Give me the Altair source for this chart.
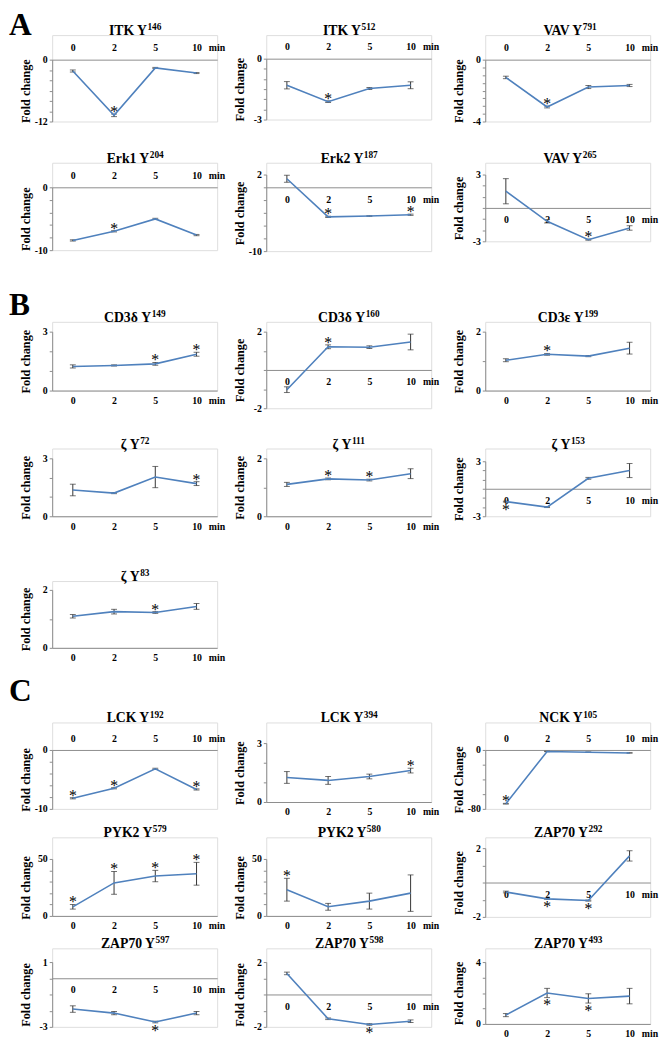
import altair as alt
import pandas as pd

times = ["0", "2", "5", "10"]

# ---- Section A ----
itk146_v = [-2.2, -10.8, -1.6, -2.6]
itk146_e = [0.2, 0.25, 0.1, 0.1]
itk512_v = [-1.31, -2.12, -1.47, -1.31]
itk512_e = [0.18, 0.04, 0.05, 0.17]
vav791_v = [-1.15, -3.06, -1.77, -1.67]
vav791_e = [0.08, 0.06, 0.1, 0.07]
erk1_v = [-8.45, -7.0, -5.03, -7.6]
erk1_e = [0.1, 0.1, 0.1, 0.1]
erk2_v = [1.34, -4.63, -4.5, -4.3]
erk2_e = [0.55, 0.1, 0.05, 0.1]
vav265_v = [1.5, -1.2, -2.85, -1.8]
vav265_e = [1.13, 0.15, 0.05, 0.2]

# ---- Section B ----
cd3d149_v = [1.23, 1.28, 1.36, 1.85]
cd3d149_e = [0.08, 0.03, 0.07, 0.1]
cd3d160_v = [-1.03, 1.21, 1.19, 1.46]
cd3d160_e = [0.15, 0.1, 0.07, 0.41]
cd3e199_v = [1.03, 1.23, 1.17, 1.44]
cd3e199_e = [0.05, 0.03, 0.02, 0.2]
z72_v = [1.36, 1.2, 2.03, 1.69]
z72_e = [0.3, 0.03, 0.55, 0.1]
z111_v = [1.1, 1.29, 1.25, 1.47]
z111_e = [0.07, 0.03, 0.03, 0.17]
z153_v = [-1.4, -2.0, 1.14, 1.99]
z153_e = [0.05, 0.05, 0.1, 0.77]
z83_v = [1.09, 1.25, 1.22, 1.43]
z83_e = [0.06, 0.08, 0.03, 0.1]

# ---- Section C ----
lck192_v = [-8.2, -6.5, -3.2, -6.7]
lck192_e = [0.1, 0.1, 0.1, 0.1]
lck394_v = [1.25, 1.1, 1.3, 1.6]
lck394_e = [0.3, 0.2, 0.12, 0.12]
nck105_v = [-73, -2, -3, -4]
nck105_e = [0.5, 0.3, 0.3, 0.3]
pyk579_v = [8, 29, 35, 37]
pyk579_e = [2, 10, 5, 10]
pyk580_v = [23, 8, 13, 20]
pyk580_e = [10, 3, 7, 16]
zap292_v = [-0.55, -0.95, -1.05, 1.55]
zap292_e = [0.05, 0.03, 0.03, 0.3]
zap597_v = [-1.9, -2.15, -2.7, -2.15]
zap597_e = [0.2, 0.1, 0.05, 0.1]
zap598_v = [1.3, -1.5, -1.85, -1.65]
zap598_e = [0.08, 0.05, 0.05, 0.08]
zap493_v = [0.57, 2.0, 1.65, 1.8]
zap493_e = [0.1, 0.3, 0.3, 0.5]

W = 168
BLUE = "#4f81bd"
ERR = "#333333"
GRAY = "#8c8c8c"
SERIF = "Liberation Serif"
TFS = 14    # title font size
SFS = 9.5   # superscript font size
# left / right room of each column's cell (y-axis title, "min" label)
COL_L = [44, 33, 33]
COL_R = [15.5, 20, 10]

CW = {"I": .389, "T": .667, "K": .778, " ": .25, "Y": .722, "V": .722, "A": .722,
      "E": .667, "r": .444, "k": .556, "C": .722, "D": .722, "δ": .5, "ε": .44,
      "ζ": .44, "L": .667, "N": .722, "P": .611, "Z": .667}


def tw(s, fs):
    return sum(CW.get(c, .5) for c in s) * fs


def panel(name, site, vals, errs, stars, ymin, ymax, step, h, tb,
          ylab="Fold change", letter=None, letter_up=0):
    return dict(name=name, site=site, vals=vals, errs=errs, stars=stars, ymin=ymin,
                ymax=ymax, step=step, h=h, tb=tb, ylab=ylab, letter=letter,
                letter_up=letter_up)


def build(p, col, K, D):
    # the view starts at the title baseline; the plot occupies [tb, tb + h] of it
    vals, errs, ymin, ymax, h, tb = p["vals"], p["errs"], p["ymin"], p["ymax"], p["h"], p["tb"]
    df = pd.DataFrame({"t": times, "v": vals, "e": errs})
    n = round((ymax - ymin) / p["step"])
    ticks = [round(ymin + k * p["step"], 6) for k in range(n + 1)]
    yax = alt.Axis(
        values=ticks,
        labelExpr=f"datum.value == {ymin} || datum.value == {ymax} ? '' + datum.value : ''",
        title=p["ylab"], titleFont=SERIF, titleFontSize=12.5, titleFontWeight="bold",
        titlePadding=2, labelFont=SERIF, labelFontSize=10, labelFontWeight="bold",
        labelPadding=2, tickSize=3, tickColor=GRAY, domainColor=GRAY,
        grid=False, minExtent=18, maxExtent=18, labelColor="#000", titleColor="#000",
    )
    if ymax <= 0:
        orient, off, base, ty = "top", -tb, "bottom", 7
    else:
        orient = "bottom"
        off = 0 if ymin >= 0 else -h * (-ymin) / (ymax - ymin)
        base, ty = "top", (5 if ymin >= 0 else 7)
    xax = alt.Axis(
        orient=orient, offset=off, title="min", titleX=7 * W / 8 + 12,
        titleY=(-ty if orient == "top" else ty),
        titleAlign="left", titleBaseline=base, titleFont=SERIF, titleFontSize=10,
        titleFontWeight="bold", titleColor="#000", labelAngle=0,
        labelPadding=ty, ticks=False, tickSize=0, labelFont=SERIF,
        labelFontSize=10, labelFontWeight="bold", labelColor="#000",
        domainColor=GRAY, grid=False,
    )
    xs = alt.X("t:O", sort=times, scale=alt.Scale(type="point", padding=0.5, domain=times),
               axis=xax, title="min")
    ysc = alt.Scale(domain=[ymin, ymax], nice=False, zero=False, range=[tb + h, tb])

    def Y(f):
        return alt.Y(f, scale=ysc, axis=yax, title=p["ylab"])

    base_c = alt.Chart(df).encode(x=xs)
    line = base_c.mark_line(color=BLUE, strokeWidth=1.6).encode(y=Y("v:Q"))
    eb = base_c.transform_calculate(lo="datum.v - datum.e", hi="datum.v + datum.e")
    rule = eb.mark_rule(color=ERR, strokeWidth=1).encode(y=Y("lo:Q"), y2="hi:Q")
    cap1 = eb.mark_tick(color=ERR, size=6, thickness=1, orient="horizontal").encode(y=Y("lo:Q"))
    cap2 = eb.mark_tick(color=ERR, size=6, thickness=1, orient="horizontal").encode(y=Y("hi:Q"))
    layers = [rule, cap1, cap2, line]
    ab = [(times[i], vals[i] + errs[i]) for i, s in p["stars"] if s == "a"]
    bl = [(times[i], vals[i] - errs[i]) for i, s in p["stars"] if s == "b"]
    for rows_, dy in ((ab, 3), (bl, 13)):
        if rows_:
            layers.append(alt.Chart(pd.DataFrame(rows_, columns=["t", "y"])).mark_text(
                text="*", font=SERIF, fontSize=16, dy=dy, baseline="alphabetic",
                color="#000").encode(x=xs, y=Y("y:Q")))
    # panel title: name + superscript site number
    main = f"{p['name']} Y"
    wm, ws = tw(main, TFS), tw(p["site"], SFS)
    x0 = W / 2 + (wm - ws) / 2
    tdf = pd.DataFrame({"main": [main], "site": [p["site"]], "letter": [p["letter"] or ""]})
    layers.append(alt.Chart(tdf).mark_text(
        font=SERIF, fontSize=TFS, fontWeight="bold", align="right", baseline="alphabetic",
        color="#000").encode(text="main:N", x=alt.value(x0), y=alt.value(0)))
    layers.append(alt.Chart(tdf).mark_text(
        font=SERIF, fontSize=SFS, fontWeight="bold", align="left", baseline="alphabetic",
        color="#000").encode(text="site:N", x=alt.value(x0 + 0.5), y=alt.value(-5)))
    if p["letter"]:
        layers.append(alt.Chart(tdf).mark_text(
            font=SERIF, fontSize=32, fontWeight="bold", align="left", baseline="alphabetic",
            color="#000").encode(text="letter:N", x=alt.value(-COL_L[col]),
                                 y=alt.value(-p["letter_up"])))
    # transparent cell frame that fixes the cell's extent in the grid
    layers.append(alt.Chart(tdf).mark_rect(opacity=0, fill="white").encode(
        x=alt.value(-COL_L[col]), x2=alt.value(W + COL_R[col]),
        y=alt.value(-K), y2=alt.value(D)))
    return alt.layer(*layers).properties(width=W, height=tb + h)


ROWS = [
    ([panel("ITK", "146", itk146_v, itk146_e, [(1, "a")], -12, 0, 2, 63, 25, letter="A"),
      panel("ITK", "512", itk512_v, itk512_e, [(1, "a")], -3, 0, 0.5, 62, 24),
      panel("VAV", "791", vav791_v, vav791_e, [(1, "a")], -4, 0, 0.5, 63, 25)], 26, 114),
    ([panel("Erk1", "204", erk1_v, erk1_e, [(1, "a")], -10, 0, 2, 64, 25),
      panel("Erk2", "187", erk2_v, erk2_e, [(1, "a"), (3, "a")], -10, 2, 2, 78, 12),
      panel("VAV", "265", vav265_v, vav265_e, [(2, "a")], -3, 3, 1, 68, 12)], 14, 127),
    ([panel("CD3δ", "149", cd3d149_v, cd3d149_e, [(2, "a"), (3, "a")], 0, 3, 1, 60, 10,
            letter="B", letter_up=7),
      panel("CD3δ", "160", cd3d160_v, cd3d160_e, [(1, "a")], -2, 2, 1, 78, 10),
      panel("CD3ε", "199", cd3e199_v, cd3e199_e, [(1, "a")], 0, 2, 1, 60, 10)], 33, 113),
    ([panel("ζ", "72", z72_v, z72_e, [(3, "a")], 0, 3, 1, 59, 10),
      panel("ζ", "111", z111_v, z111_e, [(1, "a"), (2, "a")], 0, 2, 1, 59, 10),
      panel("ζ", "153", z153_v, z153_e, [(0, "b")], -3, 3, 1, 56, 13)], 14, 119),
    ([panel("ζ", "83", z83_v, z83_e, [(2, "a")], 0, 2, 1, 59, 9)], 14, 94),
    ([panel("LCK", "192", lck192_v, lck192_e, [(0, "a"), (1, "a"), (3, "a")], -10, 0, 2, 60, 28,
            letter="C", letter_up=22),
      panel("LCK", "394", lck394_v, lck394_e, [(3, "a")], 0, 3, 1, 60, 21),
      panel("NCK", "105", nck105_v, nck105_e, [(0, "a")], -80, 0, 20, 60, 28, "Fold Change")],
     48, 101),
    ([panel("PYK2", "579", pyk579_v, pyk579_e, [(0, "a"), (1, "a"), (2, "a"), (3, "a")], 0, 50, 10, 58, 22),
      panel("PYK2", "580", pyk580_v, pyk580_e, [(0, "a")], 0, 50, 10, 58, 22),
      panel("ZAP70", "292", zap292_v, zap292_e, [(1, "b"), (2, "b")], -2, 2, 1, 70, 11)], 14, 97),
    ([panel("ZAP70", "597", zap597_v, zap597_e, [(2, "b")], -3, 1, 1, 66, 14),
      panel("ZAP70", "598", zap598_v, zap598_e, [(2, "b")], -2, 2, 1, 66, 14),
      panel("ZAP70", "493", zap493_v, zap493_e, [(1, "b"), (2, "b")], 0, 4, 1, 63, 14)], 14, 96),
]

rows = [alt.hconcat(*[build(p, c, K, D) for c, p in enumerate(ps)], spacing=0)
        for ps, K, D in ROWS]

chart = alt.vconcat(*rows, spacing=0).properties(
    padding={"left": 0, "top": -9, "right": 0, "bottom": 0}
).configure_view(strokeWidth=0).configure(font=SERIF)

chart.save("out.html", embed_options={"renderer": "svg", "actions": False})
